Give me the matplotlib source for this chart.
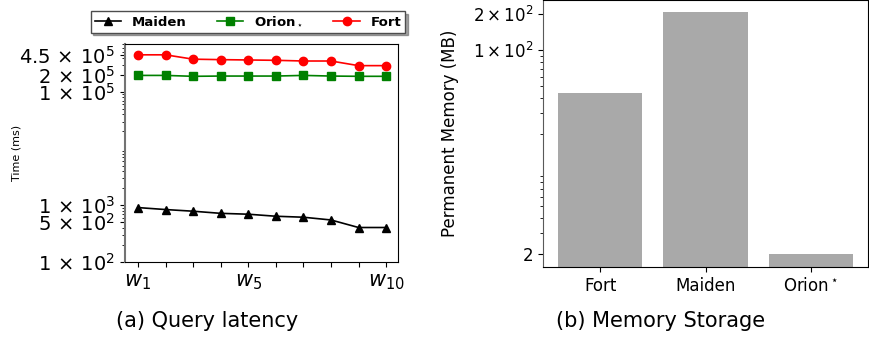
import numpy as np
import matplotlib
matplotlib.use('Agg')
import matplotlib.pyplot as plt
from matplotlib.ticker import NullFormatter

# Данные: задержка запросов
windows = list(range(1, 11))
maiden = [910, 840, 785, 720, 695, 640, 615, 550, 405, 405]
orion = [1.95e5, 1.95e5, 1.88e5, 1.9e5, 1.9e5, 1.9e5, 1.95e5, 1.9e5, 1.88e5, 1.88e5]
fort = [4.5e5, 4.5e5, 3.77e5, 3.7e5, 3.65e5, 3.6e5, 3.5e5, 3.5e5, 2.9e5, 2.9e5]
lat_ticks = [1e2, 5e2, 1e3, 1e5, 2e5, 4.5e5]
lat_labels = [r'$1\,\times\,10^2$', r'$5\,\times\,10^2$', r'$1\,\times\,10^3$',
              r'$1\,\times\,10^5$', r'$2\,\times\,10^5$', r'$4.5\,\times\,10^5$']
w_labels = [r'$w_1$', '', '', '', r'$w_5$', '', '', '', '', r'$w_{10}$']

# Данные: память
systems = ['Fort', 'Maiden', r'Orion$^\star$']
memory = [44, 209, 2.0]
mem_ticks = [2, 100, 200]
mem_labels = [r'$\mathdefault{2}$', r'$\mathdefault{1\times10^{2}}$',
              r'$\mathdefault{2\times10^{2}}$']

fig = plt.figure(figsize=(8.69, 3.38), dpi=100)

# (a) Query latency
ax1 = fig.add_axes([0.1438, 0.225, 0.3142, 0.645])
ax1.plot(windows, maiden, color='k', marker='^', ms=6, lw=1.2, label='Maiden')
ax1.plot(windows, orion, color='green', marker='s', ms=6, lw=1.2, label=r'Orion$_\star$')
ax1.plot(windows, fort, color='red', marker='o', ms=6, lw=1.2, label='Fort')
ax1.set_yscale('log')
ax1.set_ylim(100, 7e5)
ax1.set_xlim(0.53, 10.43)
ax1.set_yticks(lat_ticks)
ax1.set_yticklabels(lat_labels, fontsize=14)
ax1.yaxis.set_minor_formatter(NullFormatter())
ax1.set_xticks(windows)
ax1.set_xticklabels(w_labels, fontsize=15)
ax1.set_ylabel('Time (ms)', fontsize=8)
ax1.yaxis.set_label_coords(-0.38, 0.5)
ax1.spines['left'].set_color('0.45')
ax1.spines['left'].set_linewidth(1.5)
leg = ax1.legend(loc='lower center', bbox_to_anchor=(0.45, 1.04), ncol=3,
                 prop={'weight': 'bold', 'size': 9.5}, shadow=True, fancybox=False,
                 edgecolor='0.3', borderpad=0.3, columnspacing=2.3,
                 handletextpad=0.8, borderaxespad=0.2)
fig.text(207 / 869, 1 - 321 / 338, '(a) Query latency',
         ha='center', va='center', fontsize=15)

# (b) Memory Storage
ax2 = fig.add_axes([0.625, 0.21, 0.374, 0.79])
ax2.bar(range(len(systems)), memory, color='darkgray', width=0.8)
ax2.set_yscale('log')
ax2.set_ylim(1.56, 262)
ax2.set_yticks(mem_ticks)
ax2.set_yticklabels(mem_labels, fontsize=12)
ax2.yaxis.set_minor_formatter(NullFormatter())
ax2.set_xticks(range(len(systems)))
ax2.set_xticklabels(systems, fontsize=12)
ax2.set_ylabel('Permanent Memory (MB)', fontsize=12)
ax2.yaxis.set_label_coords(-0.26, 0.5)
ax2.spines['left'].set_color('0.35')
fig.text(661 / 869, 1 - 321 / 338, '(b) Memory Storage',
         ha='center', va='center', fontsize=15)

fig.savefig('out.png', dpi=100)
